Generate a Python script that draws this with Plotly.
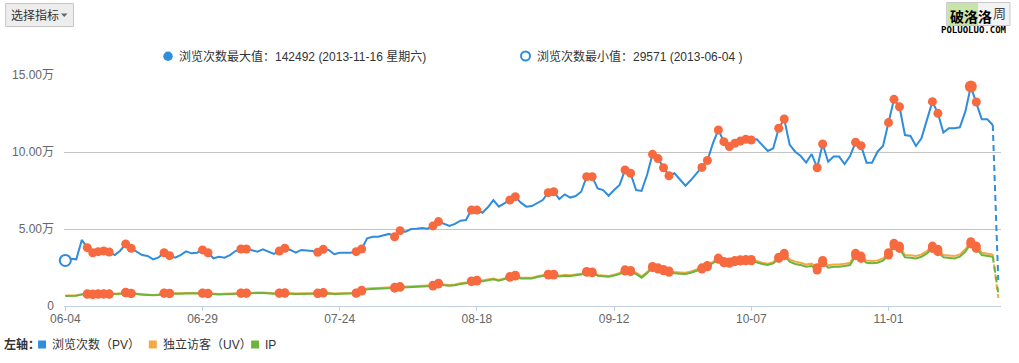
import pandas as pd
import plotly.graph_objects as go

# ---------------- data ----------------
START_DATE = "2013-06-04"
END_DATE = "2013-11-21"
DATES = pd.date_range(START_DATE, END_DATE, freq="D")

TICK_DATES = ["2013-06-04", "2013-06-29", "2013-07-24", "2013-08-18",
              "2013-09-12", "2013-10-07", "2013-11-01"]
TICK_LABELS = ["06-04", "06-29", "07-24", "08-18", "09-12", "10-07", "11-01"]

Y_TICKS = [0, 50000, 100000, 150000]
Y_TICK_LABELS = ["0", "5.00万", "10.00万", "15.00万"]

PV = [29571, 30700, 30300, 42900, 37900, 34600, 35300, 35700, 35100, 33100,
      35900, 40300, 37500, 35300, 33100, 32500, 30300, 31600, 34600, 32700,
      31400, 33100, 35500, 34200, 34600, 36400, 34600, 31000, 32000, 31400,
      33100, 35700, 37000, 37000, 35900, 35300, 36800, 35300, 33800, 35700,
      37500, 36400, 34600, 36400, 36100, 35700, 34900, 36800, 36400, 33600,
      34600, 34600, 34600, 35300, 37000, 43900, 45000, 45000, 45900, 46800,
      45000, 48900, 48300, 50000, 50200, 50700, 50200, 52000, 54800, 53300,
      52000, 53300, 55400, 55800, 62300, 62300, 60600, 64100, 68800, 64500,
      66700, 68800, 71000, 67100, 64500, 64900, 67100, 68800, 73600, 74200,
      69500, 72500, 70400, 71400, 74200, 84000, 84000, 76400, 75300, 71600,
      75300, 78600, 88300, 86200, 75300, 74700, 85100, 98500, 95700, 89800,
      84600, 86200, 82300, 78100, 81800, 86200, 90000, 94500, 105600, 114300,
      106700, 103500, 105700, 107100, 108200, 107800, 108200, 104500, 100700, 102400,
      115400, 121400, 104600, 100200, 97400, 93100, 98700, 89800, 105200, 93700,
      97000, 97000, 92200, 97400, 106300, 104100, 93100, 93100, 100200, 103900,
      119100, 134200, 129400, 111000, 110400, 103900, 108900, 120800, 132700, 125100,
      112600, 115400, 115400, 116000, 126200, 142492, 132500, 121200, 121200, 117500,
      16900]

UV = [6800, 6900, 7000, 7700, 7900, 7800, 7900, 8000, 7900, 8000,
      8200, 8900, 8300, 7900, 7600, 7400, 7200, 7500, 8500, 8300,
      8100, 8200, 8400, 8500, 8400, 8500, 8200, 7900, 7800, 7900,
      8100, 8300, 8500, 8500, 8600, 8700, 8700, 8300, 8200, 8500,
      8600, 8300, 8100, 8200, 8300, 8300, 8400, 8700, 8400, 8100,
      8100, 8100, 8200, 8500, 10200, 11300, 11500, 11700, 12000, 12200,
      12100, 12600, 12700, 13000, 13100, 13100, 13200, 13500, 14800, 14000,
      13700, 14000, 14800, 15200, 16300, 16700, 16500, 17200, 17800, 16900,
      17800, 19100, 20000, 18400, 18300, 18300, 19300, 19900, 20600, 20600,
      19700, 20100, 19900, 20400, 20900, 22400, 22100, 20200, 20000, 19500,
      20300, 21500, 23500, 23100, 21600, 19200, 22000, 25700, 24800, 23700,
      22700, 22000, 21800, 21600, 22400, 23500, 24800, 26300, 28800, 31100,
      28900, 28500, 29600, 30000, 30200, 30200, 28900, 28100, 27400, 28500,
      31700, 34200, 30300, 28800, 28100, 27000, 27500, 24900, 29600, 26400,
      27000, 27000, 27500, 28100, 34200, 32400, 29600, 29200, 29600, 30900,
      34600, 40700, 38900, 33100, 32900, 32400, 33500, 35700, 38900, 36800,
      33100, 32900, 32400, 33500, 36800, 41800, 38900, 34600, 34000, 33500,
      5300]

IP = [6500, 6600, 6700, 7400, 7600, 7500, 7600, 7700, 7600, 7700,
      7900, 8600, 8000, 7600, 7300, 7100, 6900, 7200, 8200, 8000,
      7800, 7900, 8100, 8200, 8100, 8200, 7900, 7600, 7500, 7600,
      7800, 8000, 8200, 8200, 8300, 8400, 8400, 8000, 7900, 8200,
      8300, 8000, 7800, 7900, 8000, 8000, 8100, 8400, 8100, 7800,
      7800, 7800, 7900, 8200, 9700, 10800, 11000, 11200, 11500, 11700,
      11600, 12100, 12200, 12500, 12600, 12600, 12700, 13000, 14300, 13500,
      13200, 13500, 14300, 14700, 15800, 16200, 16000, 16700, 17300, 16400,
      17300, 18600, 19500, 17900, 17800, 17800, 18800, 19400, 20100, 20100,
      19200, 19600, 19400, 19900, 20400, 21900, 21600, 19700, 19500, 19000,
      19800, 20700, 22700, 22300, 20800, 18400, 21200, 24900, 24000, 22900,
      21900, 21200, 21000, 20800, 21600, 22700, 24000, 25500, 28000, 30300,
      28100, 27700, 28800, 29200, 29400, 29400, 28100, 27300, 26600, 27700,
      30900, 32700, 28800, 27300, 26600, 25500, 26000, 23400, 28100, 24900,
      25500, 25500, 26000, 26600, 32700, 30900, 28100, 27700, 28100, 29400,
      33100, 39200, 37400, 31600, 31400, 30900, 32000, 34200, 37400, 35300,
      31600, 31400, 30900, 32000, 35300, 40300, 37400, 33100, 32500, 32000,
      8500]

# days highlighted with markers (weekends / holidays), as dates
MARK_DATES = ["2013-06-08", "2013-06-09", "2013-06-10", "2013-06-11", "2013-06-12",
              "2013-06-15", "2013-06-16", "2013-06-22", "2013-06-23",
              "2013-06-29", "2013-06-30", "2013-07-06", "2013-07-07",
              "2013-07-13", "2013-07-14", "2013-07-20", "2013-07-21",
              "2013-07-27", "2013-07-28", "2013-08-03", "2013-08-04",
              "2013-08-10", "2013-08-11", "2013-08-17", "2013-08-18",
              "2013-08-24", "2013-08-25", "2013-08-31", "2013-09-01",
              "2013-09-07", "2013-09-08", "2013-09-14", "2013-09-15",
              "2013-09-19", "2013-09-20", "2013-09-21", "2013-09-22",
              "2013-09-28", "2013-09-29",
              "2013-10-01", "2013-10-02", "2013-10-03", "2013-10-04",
              "2013-10-05", "2013-10-06", "2013-10-07",
              "2013-10-12", "2013-10-13", "2013-10-19", "2013-10-20",
              "2013-10-26", "2013-10-27", "2013-11-01", "2013-11-02", "2013-11-03",
              "2013-11-09", "2013-11-10", "2013-11-16", "2013-11-17"]

WEEKDAYS = ["星期一", "星期二", "星期三", "星期四", "星期五", "星期六", "星期日"]

# ---------------- styling ----------------
C_PV = "#2f8ddb"
C_UV = "#f5a944"
C_IP = "#6cb43c"
C_MARK = "#f76a3f"
FONT = "Arial, 'Liberation Sans', 'Noto Sans CJK SC', sans-serif"

W_FIG, H_FIG = 1019, 363
L, R, T, B = 62, 1001, 75, 306


def px(x):
    return (x - L) / (R - L)


def py(y):
    return (B - y) / (B - T)


n = len(DATES)
solid_x = DATES[: n - 1]
dash_x = DATES[n - 2:]
mark_set = set(pd.to_datetime(MARK_DATES))
mark_idx = [i for i, d in enumerate(DATES) if d in mark_set]

# the last day is incomplete (dashed) -> statistics over the complete days
complete = range(n - 1)
imax = max(complete, key=lambda i: PV[i])
imin = min(complete, key=lambda i: PV[i])

fig = go.Figure()

for ys, col in [(PV, C_PV), (UV, C_UV), (IP, C_IP)]:
    fig.add_trace(go.Scatter(x=solid_x, y=ys[: n - 1], mode="lines",
                             line=dict(color=col, width=2), hoverinfo="skip",
                             showlegend=False, cliponaxis=False))
    fig.add_trace(go.Scatter(x=dash_x, y=ys[n - 2:], mode="lines",
                             line=dict(color=col, width=2, dash="6px,4px"),
                             hoverinfo="skip", showlegend=False, cliponaxis=False))

for ys in (PV, UV, IP):
    idx = [i for i in mark_idx if not (ys is PV and i == imax)]
    fig.add_trace(go.Scatter(x=[DATES[i] for i in idx], y=[ys[i] for i in idx],
                             mode="markers",
                             marker=dict(color=C_MARK, size=9, line=dict(width=0)),
                             hoverinfo="skip", showlegend=False, cliponaxis=False))

# max marker (bigger)
fig.add_trace(go.Scatter(x=[DATES[imax]], y=[PV[imax]], mode="markers",
                         marker=dict(color=C_MARK, size=12, line=dict(width=0)),
                         hoverinfo="skip", showlegend=False, cliponaxis=False))
# min marker (hollow)
fig.add_trace(go.Scatter(x=[DATES[imin]], y=[PV[imin]], mode="markers",
                         marker=dict(color="white", size=11,
                                     line=dict(color=C_PV, width=2)),
                         hoverinfo="skip", showlegend=False, cliponaxis=False))

d0 = DATES[0]
x_range = [d0 - pd.Timedelta(hours=0.24 * 24), d0 + pd.Timedelta(hours=170.5 * 24)]

fig.update_layout(
    width=W_FIG, height=H_FIG,
    margin=dict(l=L, r=W_FIG - R, t=T, b=H_FIG - B, pad=0),
    paper_bgcolor="white", plot_bgcolor="white",
    font=dict(family=FONT, size=12, color="#666666"),
    showlegend=False,
    hovermode=False,
    xaxis=dict(type="date", range=x_range,
               tickvals=pd.to_datetime(TICK_DATES), ticktext=TICK_LABELS,
               showgrid=False, zeroline=False,
               showline=True, linecolor="#c0d0e0", linewidth=1,
               ticks="outside", ticklen=4, tickcolor="#c0d0e0", tickwidth=1,
               ticklabelstandoff=-2,
               tickfont=dict(size=12, color="#666666")),
    yaxis=dict(range=[0, 150000], tickvals=Y_TICKS, ticktext=Y_TICK_LABELS,
               showgrid=True, gridcolor="#c4c4c4", gridwidth=1,
               zeroline=False, showline=False, ticks="",
               ticklabelstandoff=9,
               tickfont=dict(size=12, color="#666666")),
)

shapes = []
annots = []

# "选择指标" button
shapes.append(dict(type="rect", xref="paper", yref="paper",
                   x0=px(3.5), x1=px(71.5), y0=py(26.5), y1=py(3.5),
                   fillcolor="#ededed", line=dict(color="#c6c6c6", width=1)))
annots.append(dict(xref="paper", yref="paper", x=px(7), y=py(15.5),
                   xanchor="left", yanchor="middle", showarrow=False,
                   text="选择指标", font=dict(size=12, color="#333333", family=FONT)))
shapes.append(dict(type="path", xref="paper", yref="paper",
                   path=f"M {px(59)} {py(13.5)} L {px(65.5)} {py(13.5)} L {px(62.25)} {py(17)} Z",
                   fillcolor="#666666", line=dict(width=0)))

# top-right watermark / button
shapes.append(dict(type="rect", xref="paper", yref="paper",
                   x0=px(946.5), x1=px(1010), y0=py(25.5), y1=py(2.5),
                   fillcolor="#f3f3f3", line=dict(color="#c8c8c8", width=1)))
shapes.append(dict(type="rect", xref="paper", yref="paper",
                   x0=px(947), x1=px(978), y0=py(25), y1=py(3),
                   fillcolor="#c9e4a9", line=dict(width=0)))
annots.append(dict(xref="paper", yref="paper", x=px(999), y=py(13.5),
                   xanchor="center", yanchor="middle", showarrow=False,
                   text="周", font=dict(size=13, color="#444444", family=FONT)))
annots.append(dict(xref="paper", yref="paper", x=px(971), y=py(16),
                   xanchor="center", yanchor="middle", showarrow=False,
                   text="<b>破洛洛</b>", font=dict(size=14, color="#000000",
                                                 family="'Noto Sans CJK SC', sans-serif")))
annots.append(dict(xref="paper", yref="paper", x=px(973.5), y=py(30),
                   xanchor="center", yanchor="middle", showarrow=False,
                   text="<b>POLUOLUO.COM</b>",
                   font=dict(size=9, color="#000000", family="'DejaVu Sans Mono', monospace")))

# top legend (max / min)
max_d = DATES[imax]
min_d = DATES[imin]
max_text = f"浏览次数最大值：{PV[imax]} ({max_d:%Y-%m-%d} {WEEKDAYS[max_d.weekday()]})"
min_text = f"浏览次数最小值：{PV[imin]} ({min_d:%Y-%m-%d} )"
shapes.append(dict(type="circle", xref="paper", yref="paper",
                   x0=px(161.5), x1=px(171), y0=py(61), y1=py(51.5),
                   fillcolor=C_PV, line=dict(width=0)))
annots.append(dict(xref="paper", yref="paper", x=px(175), y=py(56.5),
                   xanchor="left", yanchor="middle", showarrow=False,
                   text=max_text, font=dict(size=12, color="#333333", family=FONT)))
shapes.append(dict(type="circle", xref="paper", yref="paper",
                   x0=px(520), x1=px(529), y0=py(60.5), y1=py(51.5),
                   fillcolor="white", line=dict(color=C_PV, width=2)))
annots.append(dict(xref="paper", yref="paper", x=px(534), y=py(56.5),
                   xanchor="left", yanchor="middle", showarrow=False,
                   text=min_text, font=dict(size=12, color="#333333", family=FONT)))

# bottom legend
annots.append(dict(xref="paper", yref="paper", x=px(0), y=py(344.5),
                   xanchor="left", yanchor="middle", showarrow=False,
                   text="<b>左轴：</b>", font=dict(size=12, color="#333333", family=FONT)))
for x0, col, label in [(36, C_PV, "浏览次数（PV）"), (147, C_UV, "独立访客（UV）"),
                       (249.5, C_IP, "IP")]:
    shapes.append(dict(type="rect", xref="paper", yref="paper",
                       x0=px(x0), x1=px(x0 + 8), y0=py(348.5), y1=py(340.5),
                       fillcolor=col, line=dict(width=0)))
    annots.append(dict(xref="paper", yref="paper", x=px(x0 + 12), y=py(344.5),
                       xanchor="left", yanchor="middle", showarrow=False,
                       text=label, font=dict(size=12, color="#333333", family=FONT)))

fig.update_layout(shapes=shapes, annotations=annots)

fig.write_html("out.html",
               config={"displayModeBar": False},
               post_script="document.body.style.margin='0';document.body.style.padding='0';")
